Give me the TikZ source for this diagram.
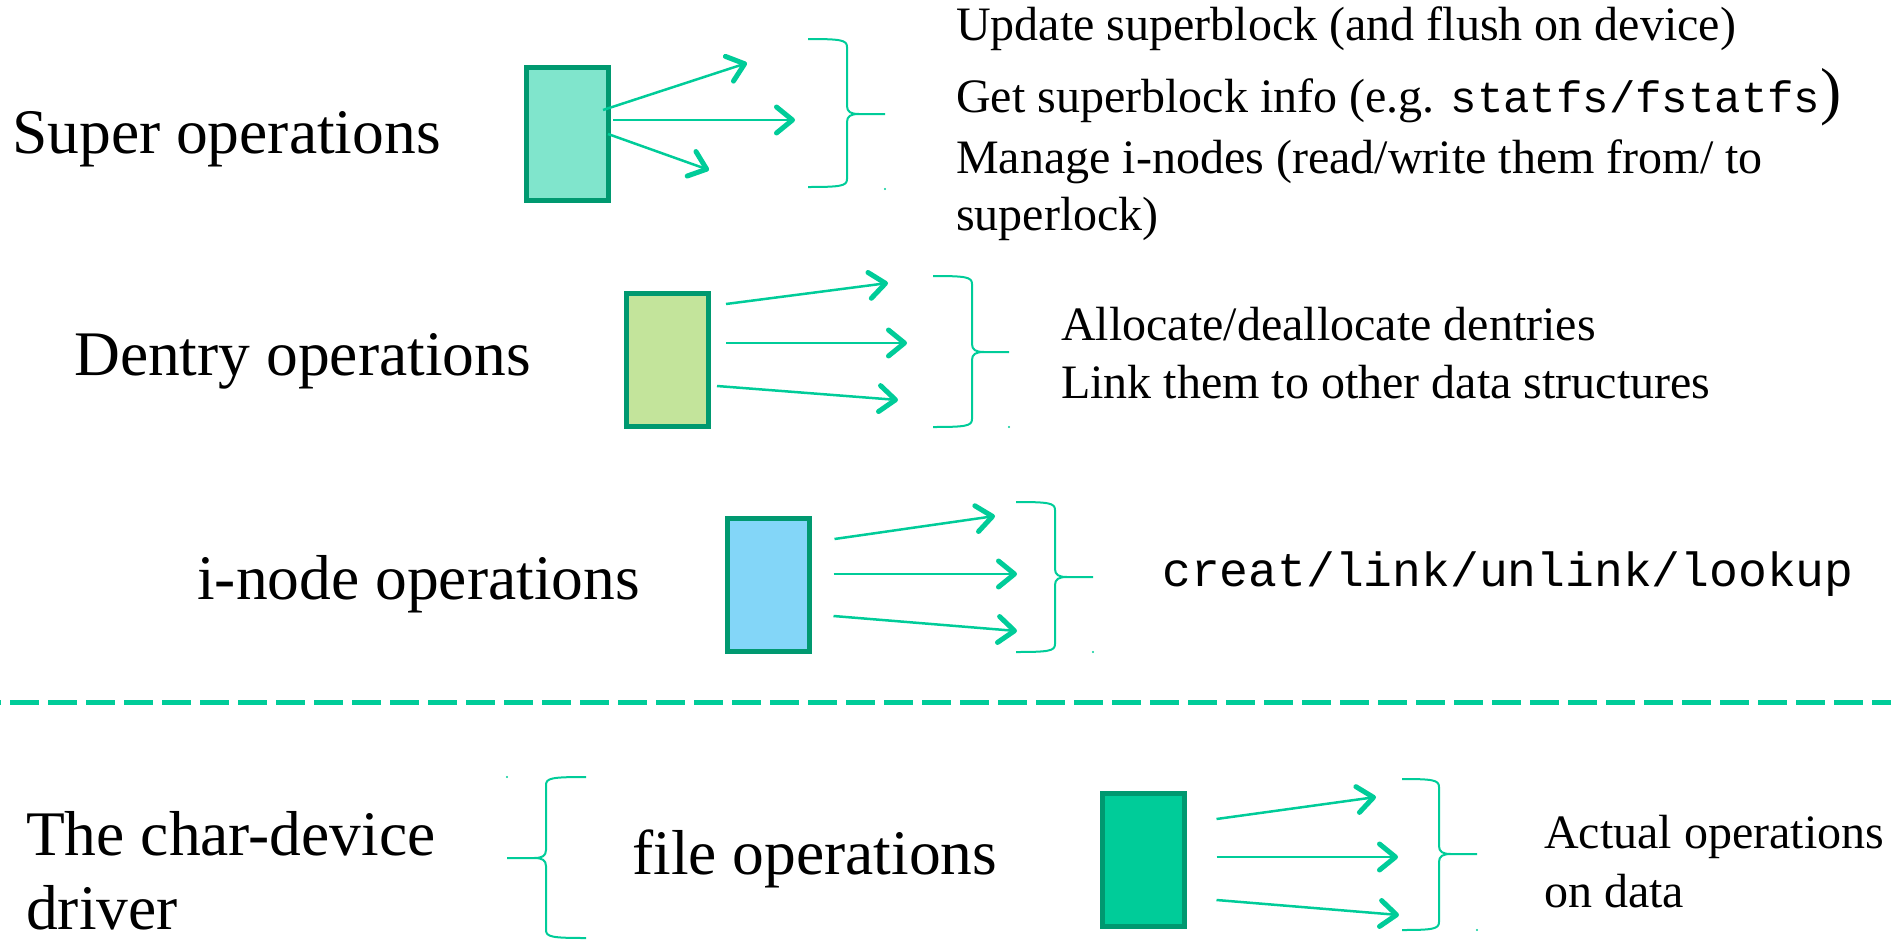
\documentclass[tikz,border=0pt]{standalone}
\usepackage{fontspec}
\setmainfont{Liberation Serif}
\setmonofont{Liberation Mono}
\usetikzlibrary{arrows.meta}

\definecolor{opgreen}{HTML}{00CC99}
\definecolor{opdark}{HTML}{009970}
\definecolor{superfill}{HTML}{80E5CC}
\definecolor{dentryfill}{HTML}{C3E49B}
\definecolor{inodefill}{HTML}{83D6F8}

% curly brace: x0, xv, xtip, ytop, ymid, ybot, direction (1 right, -1 left)
\newcommand{\opbrace}[7]{%
  \draw[bracestyle] (#1,#4) .. controls ({#2-6*#7},#4) and (#2,{#4+1}) .. (#2,{#4+8})
    -- (#2,{#5-8}) .. controls (#2,{#5-2}) and ({#2+4*#7},#5) .. ({#2+12*#7},#5) -- (#3,#5)
    ({#2+12*#7},#5) .. controls ({#2+4*#7},#5) and (#2,{#5+2}) .. (#2,{#5+8})
    -- (#2,{#6-8}) .. controls (#2,{#6-1}) and ({#2-6*#7},#6) .. (#1,#6);}

\begin{document}
\begin{tikzpicture}[x=1pt,y=-1pt,
  opbox/.style={draw=opdark, line width=5pt, minimum width=82pt, minimum height=133pt, inner sep=0pt},
  oparrow/.style={draw=opgreen, line width=2.5pt, -{Straight Barb[length=16pt,width=26pt,line width=5pt,round=false]}},
  bracestyle/.style={draw=opgreen, line width=2pt},
  biglabel/.style={anchor=base west, inner sep=0pt, font=\fontsize{63.5}{70}\selectfont},
  desc/.style={anchor=base west, inner sep=0pt, font=\fontsize{48}{55}\selectfont}]
%%%%%%%%%%%%%%%%%%%%%%%%%%%%%%%%%%%%%%%%%%% HELP LINES
%\draw[help lines] (0,0) grid (1891,940);
\useasboundingbox (0,0) rectangle (1891,940);

%%%%%%%%%%%%%%%%%%%%%%%%%%%%%%%%%%%%%%%%%%% labels
\node[biglabel] (superlbl) at (12,153) {Super operations};
\node[biglabel] (dentrylbl) at (74,375) {Dentry operations};
\node[biglabel] (inodelbl) at (197,599) {i-node operations};
\node[biglabel] (charlbl) at (26,855) {The char-device};
\node[biglabel] (driverlbl) at (26,929) {driver};
\node[biglabel] (filelbl) at (632,874) {file operations};

%%%%%%%%%%%%%%%%%%%%%%%%%%%%%%%%%%%%%%%%%%% boxes
\node[opbox, fill=superfill] (superops) at (567.5,134) {};
\node[opbox, fill=dentryfill] (dentryops) at (667.5,359.5) {};
\node[opbox, fill=inodefill] (inodeops) at (768,584.5) {};
\node[opbox, fill=opgreen] (fileops) at (1143,859.5) {};

%%%%%%%%%%%%%%%%%%%%%%%%%%%%%%%%%%%%%%%%%%% arrow ends
\coordinate (super1) at (747,63);
\coordinate (super2) at (795,120);
\coordinate (super3) at (709,170);
\coordinate (dentry1) at (888,283);
\coordinate (dentry2) at (907,343);
\coordinate (dentry3) at (898,400);
\coordinate (inode1) at (995,516);
\coordinate (inode2) at (1017,574);
\coordinate (inode3) at (1017,631);
\coordinate (file1) at (1376,797);
\coordinate (file2) at (1398,857);
\coordinate (file3) at (1399,915);

\draw[oparrow] ([xshift=-8pt,yshift=24pt]superops.east) -- (super1);
\draw[oparrow] ([xshift=2pt,yshift=14pt]superops.east) -- (super2);
\draw[oparrow] ([xshift=-3pt]superops.east) -- (super3);
\draw[oparrow] ([xshift=15pt,yshift=55.5pt]dentryops.east) -- (dentry1);
\draw[oparrow] ([xshift=15pt,yshift=16.5pt]dentryops.east) -- (dentry2);
\draw[oparrow] ([xshift=6pt,yshift=-26.5pt]dentryops.east) -- (dentry3);
\draw[oparrow] ([xshift=23pt,yshift=45.5pt]inodeops.east) -- (inode1);
\draw[oparrow] ([xshift=22pt,yshift=10.5pt]inodeops.east) -- (inode2);
\draw[oparrow] ([xshift=22pt,yshift=-31.5pt]inodeops.east) -- (inode3);
\draw[oparrow] ([xshift=30pt,yshift=40.5pt]fileops.east) -- (file1);
\draw[oparrow] ([xshift=30pt,yshift=2.5pt]fileops.east) -- (file2);
\draw[oparrow] ([xshift=30pt,yshift=-40.5pt]fileops.east) -- (file3);

%%%%%%%%%%%%%%%%%%%%%%%%%%%%%%%%%%%%%%%%%%% braces
\opbrace{808}{847}{885}{39}{114}{187}{1}
\opbrace{933}{972}{1009}{276}{352}{427}{1}
\opbrace{1016}{1055}{1093}{502}{577}{652}{1}
\opbrace{1402}{1439}{1477}{779}{854}{930}{1}
\opbrace{586}{546}{507}{777}{858}{938}{-1}
\fill[opgreen] (885,189) circle (1.2);
\fill[opgreen] (1009,427) circle (1.2);
\fill[opgreen] (1093,652) circle (1.2);
\fill[opgreen] (1477,930) circle (1.2);
\fill[opgreen] (507,777) circle (1.2);

%%%%%%%%%%%%%%%%%%%%%%%%%%%%%%%%%%%%%%%%%%% descriptions
\node[desc] (update) at (956,40) {Update superblock (and flush on device)};
\node[desc] (getinfo) at (956,112) {Get superblock info (e.g. {\ttfamily\fontsize{44}{50}\selectfont statfs/fstatfs}{\fontsize{63.5}{70}\selectfont)}};
\node[desc] (manage) at (956,173) {Manage i-nodes (read/write them from/ to};
\node[desc] (manage2) at (956,230) {superlock)};
\node[desc] (alloc) at (1061,340) {Allocate/deallocate dentries};
\node[desc] (link) at (1061,398) {Link them to other data structures};
\node[desc, font=\ttfamily\fontsize{48}{55}\selectfont] (inodecalls) at (1162,586) {creat/link/unlink/lookup};
\node[desc] (actual) at (1544,848) {Actual operations};
\node[desc] (ondata) at (1544,907) {on data};

%%%%% separator
\draw[opgreen, line width=5pt, dash pattern=on 29pt off 9pt, dash phase=28pt] (0,702) -- (1891,702);

\end{tikzpicture}
\end{document}
